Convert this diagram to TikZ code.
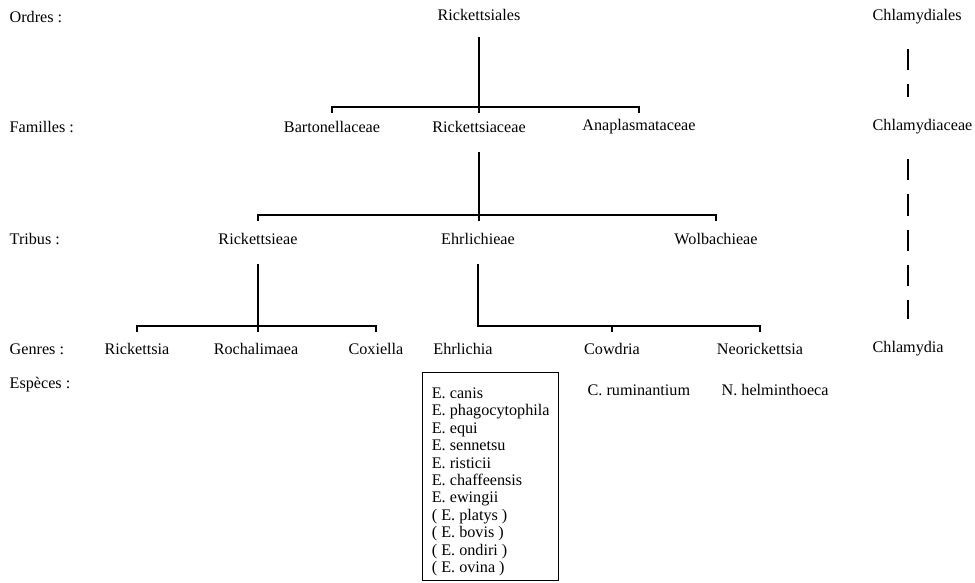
\documentclass[tikz,border=0pt]{standalone}
\usepackage{fontspec}
\setmainfont{Liberation Serif}
\usetikzlibrary{calc}

\begin{document}
\begin{tikzpicture}[
  x=0.025cm, y=-0.025cm,
  every node/.style={font=\fontsize{11.5}{12.4}\selectfont, inner sep=1pt},
  rowlabel/.style={anchor=west},
  link/.style={line width=1.3pt},
  stem/.style={link, shorten <=18pt},
  dashlink/.style={line width=1.4pt, dash pattern=on 15pt off 10pt,
    shorten <=23pt, shorten >=21pt},
  specbox/.style={draw, line width=1pt, align=left, anchor=north west,
    minimum width=96.7pt, inner xsep=6pt, inner ysep=3pt}
]
\useasboundingbox (0,0) rectangle (975,583);

% === Row labels ===
\node[rowlabel] (lordres) at (8,17) {Ordres :};
\node[rowlabel] (lfam) at (8,127) {Familles :};
\node[rowlabel] (ltrib) at (8,239) {Tribus :};
\node[rowlabel] (lgen) at (8,349) {Genres :};
\node[rowlabel] (lesp) at (8,385) {Espèces :};

% === Rickettsiales tree ===
\node (rickord) at (479,15) {Rickettsiales};

\node (bart) at (332,127) {Bartonellaceae};
\node (rickfam) at (479,127) {Rickettsiaceae};
\node (anap) at (639,127) {Anaplasmataceae};

\node (ricktrib) at (258,239) {Rickettsieae};
\node (ehrtrib) at (478,239) {Ehrlichieae};
\node (wolb) at (716,239) {Wolbachieae};

\node (rickgen) at (137,349) {Rickettsia};
\node (rocha) at (256,349) {Rochalimaea};
\node (coxi) at (376,349) {Coxiella};
\node (ehrgen) at (463,349) {Ehrlichia};
\node (cowd) at (612,349) {Cowdria};
\node (neor) at (760,349) {Neorickettsia};

% === Chlamydiales column ===
\node[anchor=west] (chlord) at (871,17) {Chlamydiales};
\node[anchor=west] (chlfam) at (871,127) {Chlamydiaceae};
\node[anchor=west] (chlgen) at (871,349) {Chlamydia};

% === Species ===
\node[specbox] (ehrspec) at (422,372) {
  \rule{0pt}{15.2pt}E. canis\\
  E. phagocytophila\\
  E. equi\\
  E. sennetsu\\
  E. risticii\\
  E. chaffeensis\\
  E. ewingii\\
  ( E. platys )\\
  ( E. bovis )\\
  ( E. ondiri )\\
  ( E. ovina )
};
\node[anchor=west] (cowspec) at (586,390) {C. ruminantium};
\node[anchor=west] (neospec) at (720,390) {N. helminthoeca};

% === Brackets ===
\coordinate (b1) at (479,107);
\coordinate (b2) at (479,215);
\coordinate (b3) at (258,326);
\coordinate (b4) at (478,326);

\draw[stem, shorten <=16pt] (rickord.center) -- (b1) -- ++(0,6);
\draw[link] ($(bart |- b1)+(0,6)$) -- (bart |- b1) -- (anap |- b1) -- ++(0,6);

\draw[stem] (rickfam.center) -- (b2) -- ++(0,6);
\draw[link] ($(ricktrib |- b2)+(0,6)$) -- (ricktrib |- b2) -- (wolb |- b2) -- ++(0,6);

\draw[stem] (ricktrib.center) -- (b3) -- ++(0,6);
\draw[link] ($(rickgen |- b3)+(0,6)$) -- (rickgen |- b3) -- (coxi |- b3) -- ++(0,6);

\draw[stem] (ehrtrib.center) -- (b4) -- (neor |- b4) -- ++(0,6);
\draw[link] (cowd |- b4) -- ++(0,6);

% === Dashed links ===
\draw[dashlink] (chlord.center -| chlgen.center) -- (chlfam.center -| chlgen.center);
\draw[dashlink] (chlfam.center -| chlgen.center) -- (chlgen.center);

\end{tikzpicture}
\end{document}
